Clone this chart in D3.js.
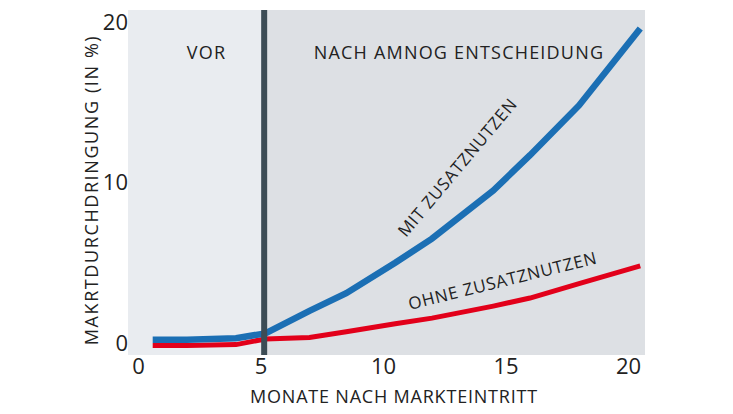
<!DOCTYPE html><html><head><meta charset="utf-8"><script src="https://cdn.jsdelivr.net/npm/d3@7"></script>
<style>body{margin:0;background:#fff}text{font-family:"Open Sans",sans-serif}</style></head><body><svg id="c" width="733" height="414"></svg><script>
const months=[0.6,2,4,5.2,7,8.5,10.5,12,14.5,16,18,20.5];
const mit=[0.2,0.2,0.3,0.6,2.0,3.1,5.0,6.5,9.5,11.7,14.8,19.6];
const ohne=[-0.15,-0.15,-0.1,0.25,0.35,0.7,1.2,1.55,2.3,2.8,3.7,4.8];
const xTicks=[0,5,10,15,20], yTicks=[0,10,20];
const split=5.15;
const svg=d3.select("#c");
const x=d3.scaleLinear().domain([0,20]).range([138,628]);
const y=d3.scaleLinear().domain([0,20]).range([343,22]);
const x0=x.invert(128),x1=x.invert(645),yb=y.invert(355),yt=y.invert(10);
svg.append("rect").attr("x",x(x0)).attr("y",y(yt)).attr("width",x(split)-x(x0)).attr("height",y(yb)-y(yt)).attr("fill","#e9ecf0");
svg.append("rect").attr("x",x(split)).attr("y",y(yt)).attr("width",x(x1)-x(split)).attr("height",y(yb)-y(yt)).attr("fill","#dde0e4");
const line=d3.line().x((d,i)=>x(months[i])).y(d=>y(d));
svg.append("path").datum(ohne).attr("d",line).attr("fill","none").attr("stroke","#e2001a").attr("stroke-width",5);
svg.append("path").datum(mit).attr("d",line).attr("fill","none").attr("stroke","#1b6fb4").attr("stroke-width",6.5);
svg.append("line").attr("x1",x(split)).attr("x2",x(split)).attr("y1",y(yt)).attr("y2",y(yb)).attr("stroke","#3c4c55").attr("stroke-width",6);
const xa=svg.append("g").attr("transform","translate(0,355)").call(d3.axisBottom(x).tickValues(xTicks).tickSize(0).tickPadding(3));
xa.select(".domain").remove();
xa.selectAll("text").attr("font-size",22).attr("fill","#222").attr("font-family","Open Sans");
const ya=svg.append("g").attr("transform","translate(130,0)").call(d3.axisLeft(y).tickValues(yTicks).tickSize(0).tickPadding(2));
ya.select(".domain").remove();
ya.selectAll("text").attr("font-size",22).attr("fill","#222").attr("font-family","Open Sans");
svg.append("text").attr("x",x(2.8)).attr("y",59).attr("text-anchor","middle").attr("font-size",18).attr("fill","#222").attr("letter-spacing",1.2).text("VOR");
svg.append("text").attr("x",x(13.1)).attr("y",59).attr("text-anchor","middle").attr("font-size",18).attr("fill","#222").attr("letter-spacing",1.2).text("NACH AMNOG ENTSCHEIDUNG");
svg.append("text").attr("x",394).attr("y",403).attr("text-anchor","middle").attr("font-size",18).attr("fill","#222").attr("letter-spacing",0.8).text("MONATE NACH MARKTEINTRITT");
svg.append("text").attr("transform","translate(98,190) rotate(-90)").attr("text-anchor","middle").attr("font-size",18).attr("fill","#222").attr("letter-spacing",1.6).text("MAKRTDURCHDRINGUNG (IN %)");
svg.append("text").attr("transform","translate(406,238) rotate(-50)").attr("font-size",17).attr("fill","#222").attr("letter-spacing",0.8).text("MIT ZUSATZNUTZEN");
svg.append("text").attr("transform","translate(410,310) rotate(-14)").attr("font-size",17).attr("fill","#222").attr("letter-spacing",0.8).text("OHNE ZUSATZNUTZEN");
</script></body></html>
